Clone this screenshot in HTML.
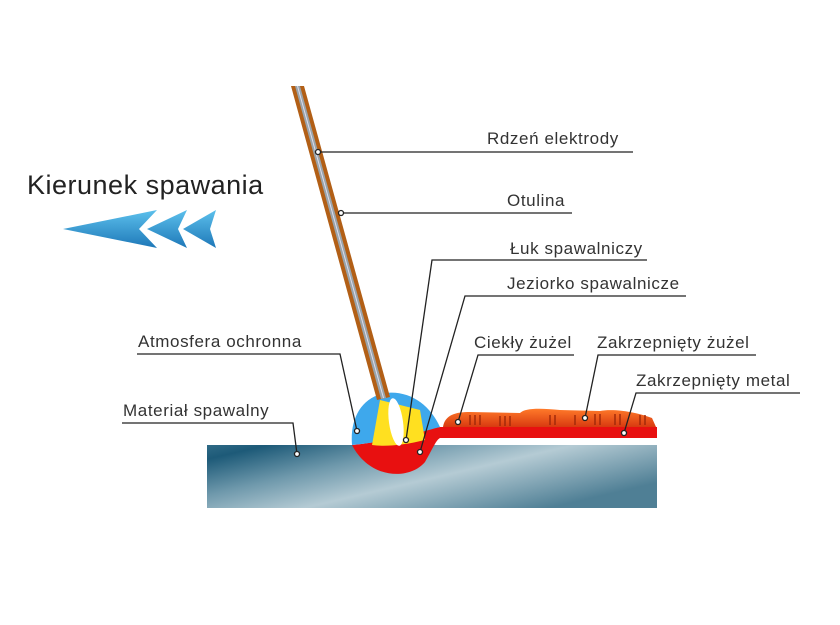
<!DOCTYPE html>
<html><head><meta charset="utf-8"><style>
html,body{margin:0;padding:0;background:#fff}
svg text{font-family:"Liberation Sans",sans-serif;fill:#333;font-size:17px;letter-spacing:0.6px}
</style></head><body>
<svg width="840" height="620" viewBox="0 0 840 620" xmlns="http://www.w3.org/2000/svg">
<defs>
<linearGradient id="plate" x1="0" y1="0" x2="1" y2="0.6">
<stop offset="0" stop-color="#2f6a86"/><stop offset="0.1" stop-color="#1d5a78"/><stop offset="0.35" stop-color="#6e98ab"/><stop offset="0.6" stop-color="#b5cbd4"/><stop offset="1" stop-color="#4f7f95"/>
</linearGradient>
<linearGradient id="arr" x1="0" y1="0" x2="0" y2="1">
<stop offset="0" stop-color="#5cc0ec"/><stop offset="1" stop-color="#1e78b8"/>
</linearGradient>
<linearGradient id="slag" x1="0" y1="0" x2="0" y2="1">
<stop offset="0" stop-color="#ff7a2a"/><stop offset="1" stop-color="#d83a10"/>
</linearGradient>
</defs>
<text x="27" y="194" style="font-size:27px;fill:#222;letter-spacing:0.5px">Kierunek spawania</text>
<polygon points="63,229 157,210 139,229 157,248" fill="url(#arr)"/>
<polygon points="147,229 187,210 178,229 187,248" fill="url(#arr)"/>
<polygon points="183,229 216,210 210,229 216,248" fill="url(#arr)"/>
<rect x="207" y="445" width="450" height="63" fill="url(#plate)"/>
<rect x="440" y="427" width="217" height="11" fill="#e81010"/>
<path d="M443,427 C445,415 455,412 470,412 L520,413 C525,408 540,408 560,410 L600,411 C610,409 630,410 652,418 L656,427 Z" fill="url(#slag)"/>
<path d="M470,415v10M475,415v10M480,415v10M500,416v10M505,416v10M510,416v10M550,415v10M555,415v10M575,415v10M595,414v11M600,414v11M615,414v11M620,414v11M640,415v10M645,415v10" stroke="#a32a0a" stroke-width="1.5"/>
<path d="M352,445 C370,480 410,480 425,462 C432,450 436,440 440,438 L440,427 C420,430 400,440 352,445 Z" fill="#e81010"/>
<path d="M352,445 C350,420 360,398 385,393 C410,390 430,405 440,427 C420,432 400,440 352,445 Z" fill="#3ea8ec"/>
<path d="M372,445 L380,400 L420,410 L425,440 C405,445 385,447 372,445 Z" fill="#ffe020"/>
<ellipse cx="396" cy="422" rx="7" ry="24" fill="#fff" transform="rotate(-8 396 422)"/>
<polygon points="291,86 304,86 390,397 377,400" fill="#b25f16"/>
<polygon points="295,86 300,86 386,398 381,399" fill="#9aa4aa"/>
<line x1="297.5" y1="86" x2="383.5" y2="398" stroke="#dde" stroke-width="1"/>
<g fill="none" stroke="#222" stroke-width="1.3">
<path d="M318,152H633"/>
<path d="M341,213H572"/>
<path d="M406,440L432,260H647"/>
<path d="M420,452L465,296H686"/>
<path d="M458,422L478,355H574"/>
<path d="M585,418L598,355H756"/>
<path d="M624,433L636,393H800"/>
<path d="M357,431L340,354H137"/>
<path d="M297,454L293,423H122"/>
</g>
<g fill="#fff" stroke="#222" stroke-width="1.3">
<circle cx="318" cy="152" r="2.5"/><circle cx="341" cy="213" r="2.5"/><circle cx="406" cy="440" r="2.5"/>
<circle cx="420" cy="452" r="2.5"/><circle cx="458" cy="422" r="2.5"/><circle cx="585" cy="418" r="2.5"/>
<circle cx="624" cy="433" r="2.5"/><circle cx="357" cy="431" r="2.5"/><circle cx="297" cy="454" r="2.5"/>
</g>
<text x="487" y="144">Rdzeń elektrody</text>
<text x="507" y="206">Otulina</text>
<text x="510" y="254">Łuk spawalniczy</text>
<text x="507" y="289">Jeziorko spawalnicze</text>
<text x="474" y="348">Ciekły żużel</text>
<text x="597" y="348">Zakrzepnięty żużel</text>
<text x="636" y="386">Zakrzepnięty metal</text>
<text x="138" y="347">Atmosfera ochronna</text>
<text x="123" y="416">Materiał spawalny</text>
</svg>
</body></html>
